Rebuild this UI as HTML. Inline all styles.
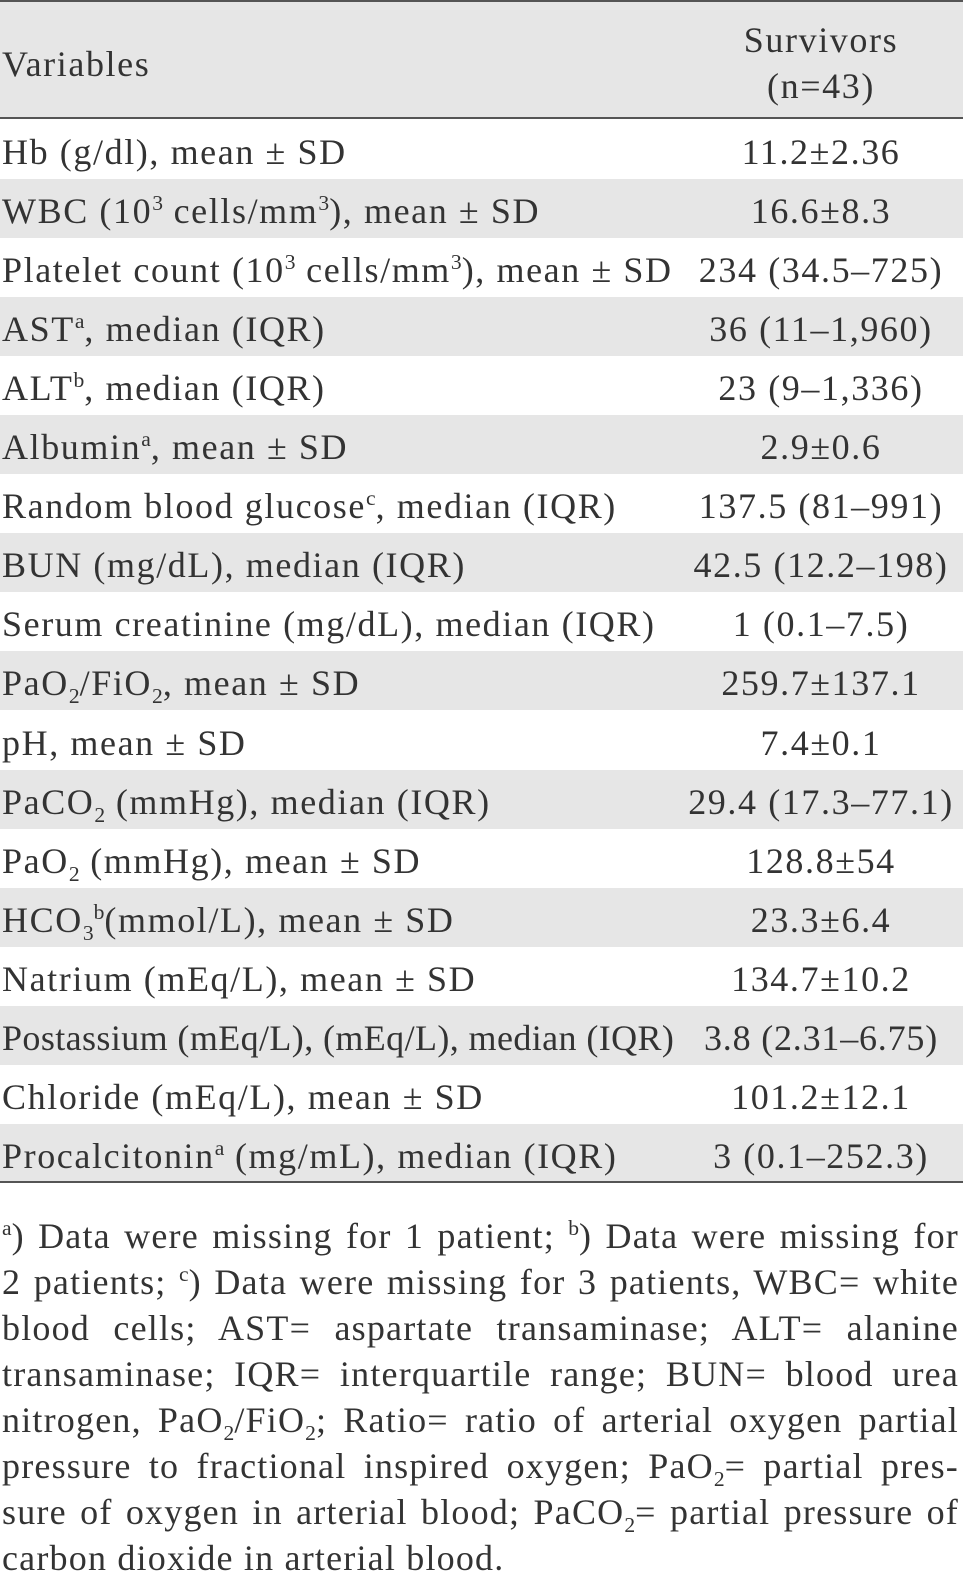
<!DOCTYPE html>
<html><head><meta charset="utf-8">
<style>
body{margin:0;width:963px;height:1570px;overflow:hidden;background:#fff;font-family:"Liberation Serif",serif;color:#333;position:relative}
.hl{position:absolute;left:0;width:963px;height:2px;background:#555}
.row{position:absolute;left:0;width:963px;height:59px;font-size:36px;letter-spacing:1.6px;line-height:59px;white-space:nowrap}
.row .c1,.row .c2{top:3px}
.g{background:#e6e6e6}
.c1{position:absolute;left:2px;top:0}
.c2{position:absolute;left:685px;width:272px;text-align:center;top:0}
sup,sub{font-size:60%;line-height:0;letter-spacing:0}
.fn{position:absolute;left:2px;width:957px;font-size:36px;line-height:46px;text-align:justify;text-align-last:justify;white-space:nowrap;letter-spacing:1.2px}
.fn.last{text-align-last:left}
</style></head><body>
<div class="hl" style="top:0"></div>
<div class="g" style="position:absolute;top:2px;left:0;width:963px;height:116px"></div>
<div style="position:absolute;left:2px;top:39px;font-size:36px;letter-spacing:1.6px;line-height:50px">Variables</div>
<div style="position:absolute;left:685px;width:272px;text-align:center;top:17px;font-size:36px;letter-spacing:1.6px;line-height:46px">Survivors<br>(n=43)</div>
<div class="hl" style="top:117px"></div>
<div id="rows"></div>
<div class="hl" style="top:1181px"></div>
<div>
<div class="fn" style="top:1213px"><sup>a</sup>) Data were missing for 1 patient; <sup>b</sup>) Data were missing for</div>
<div class="fn" style="top:1259px">2 patients; <sup>c</sup>) Data were missing for 3 patients, WBC= white</div>
<div class="fn" style="top:1305px">blood cells; AST= aspartate transaminase; ALT= alanine</div>
<div class="fn" style="top:1351px">transaminase; IQR= interquartile range; BUN= blood urea</div>
<div class="fn" style="top:1397px">nitrogen, PaO<sub>2</sub>/FiO<sub>2</sub>; Ratio= ratio of arterial oxygen partial</div>
<div class="fn" style="top:1443px">pressure to fractional inspired oxygen; PaO<sub>2</sub>= partial pres-</div>
<div class="fn" style="top:1489px">sure of oxygen in arterial blood; PaCO<sub>2</sub>= partial pressure of</div>
<div class="fn last" style="top:1535px">carbon dioxide in arterial blood.</div>
</div>
<script>
const labels=["Hb (g/dl), mean ± SD","WBC (10<sup>3</sup> cells/mm<sup>3</sup>), mean ± SD","Platelet count (10<sup>3</sup> cells/mm<sup>3</sup>), mean ± SD","AST<sup>a</sup>, median (IQR)","ALT<sup>b</sup>, median (IQR)","Albumin<sup>a</sup>, mean ± SD","Random blood glucose<sup>c</sup>, median (IQR)","BUN (mg/dL), median (IQR)","Serum creatinine (mg/dL), median (IQR)","PaO<sub>2</sub>/FiO<sub>2</sub>, mean ± SD","pH, mean ± SD","PaCO<sub>2</sub> (mmHg), median (IQR)","PaO<sub>2</sub> (mmHg), mean ± SD","HCO<sub>3</sub><sup>b</sup>(mmol/L), mean ± SD","Natrium (mEq/L), mean ± SD","Postassium (mEq/L), (mEq/L), median (IQR)","Chloride (mEq/L), mean ± SD","Procalcitonin<sup>a</sup> (mg/mL), median (IQR)"];
const values=["11.2±2.36","16.6±8.3","234 (34.5–725)","36 (11–1,960)","23 (9–1,336)","2.9±0.6","137.5 (81–991)","42.5 (12.2–198)","1 (0.1–7.5)","259.7±137.1","7.4±0.1","29.4 (17.3–77.1)","128.8±54","23.3±6.4","134.7±10.2","3.8 (2.31–6.75)","101.2±12.1","3 (0.1–252.3)"];
const host=document.getElementById('rows');
labels.forEach((l,i)=>{
  const r=document.createElement('div');
  r.className='row'+(i%2?' g':'');
  r.style.top=(120+i*59.05)+'px';
  
  
  const a=document.createElement('span');a.className='c1';a.innerHTML=l;
  
  
  const b=document.createElement('span');b.className='c2';b.innerHTML=values[i];
  
  
  if(i===15){a.style.letterSpacing='0.4px';b.style.letterSpacing='0.8px';}
  r.appendChild(a);r.appendChild(b);host.appendChild(r);
});
</script>
</body></html>
